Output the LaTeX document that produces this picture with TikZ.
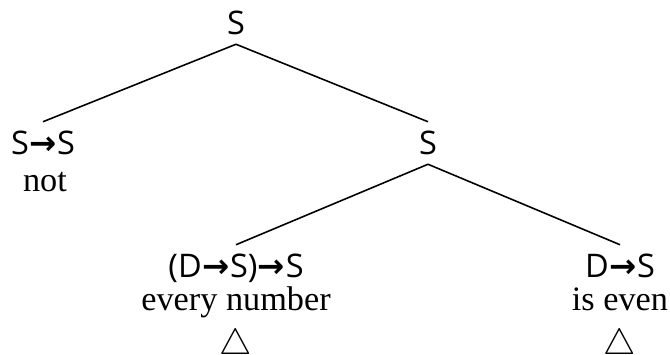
\documentclass[tikz,border=0pt]{standalone}
\usepackage{fontspec}
\setmainfont{Liberation Serif}
\newfontfamily\typefont{Open Sans}
\newfontfamily\arrowfont{DejaVu Sans}
\usetikzlibrary{positioning}
\newcommand{\ty}{{\arrowfont\bfseries\kern0.3pt→\kern0.3pt}}
\tikzset{
  cat/.style ={font=\typefont\fontsize{18.5}{22}\selectfont, inner sep=0pt, outer sep=5.5pt,
               text height=13.2pt, text depth=0pt},
  word/.style={font=\fontsize{19.5}{23}\selectfont, inner sep=0pt,
               text height=12pt, text depth=2pt},
  tri/.style ={font=\fontsize{21}{24}\selectfont, inner sep=0pt},
  edge/.style={line width=0.9pt},
}

\begin{document}
\begin{tikzpicture}[x=0.02cm, y=-0.02cm]
  \useasboundingbox (0,0) rectangle (670,355);
  % categories
  \node[cat] (root)  at (236,23)  {S};
  \node[cat] (neg)   at (43,143)  {S\ty S};
  \node[cat] (rs)    at (428,143) {S};
  \node[cat] (quant) at (236,266) {(D\ty S)\ty S};
  \node[cat] (pred)  at (620,266) {D\ty S};
  % words
  \node[word] (wnot)   at (45,183)  {not};
  \node[word] (wevery) at (236,302) {every number};
  \node[word] (weven)  at (620,302) {is even};
  \node[tri]  (tquant) at (236,345) {$\triangle$};
  \node[tri]  (tpred)  at (620,345) {$\triangle$};
  % branches
  \draw[edge] (root.south) -- (neg.north);
  \draw[edge] (root.south) -- (rs.north);
  \draw[edge] (rs.south) -- (quant.north);
  \draw[edge] (rs.south) -- (pred.north);
\end{tikzpicture}
\end{document}
